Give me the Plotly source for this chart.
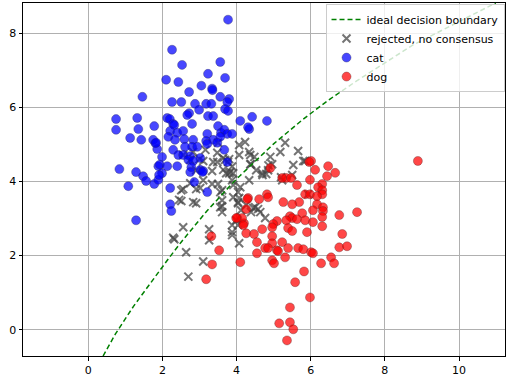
import plotly.graph_objects as go

# ---- data ----
cat_x = [0.75,0.75,1.32,1.35,1.46,1.78,1.13,1.43,1.81,1.86,1.99,1.89,1.93,1.99,0.84,1.29,1.48,1.56,1.78,1.89,
         1.08,1.29,2.10,2.13,2.20,3.77,2.26,2.53,3.56,3.23,3.69,2.43,2.72,3.05,3.34,3.35,3.56,3.80,3.75,2.26,
         2.51,2.88,3.18,3.32,2.99,3.69,3.77,2.72,2.67,3.23,3.37,4.10,4.42,4.82,4.34,2.80,2.29,3.50,4.31,2.32,
         2.21,2.40,2.56,2.16,2.34,2.59,2.83,2.80,2.61,2.94,3.21,3.18,3.37,3.58,3.67,3.75,3.88,3.56,3.48,3.21,
         3.67,1.75,1.83,2.29,2.43,2.56,2.75,3.02,2.70,2.83,2.13,2.40,2.78,3.02,3.10,3.75,1.91,2.21,2.21,2.24,
         3.21,2.86,2.75,3.08]
cat_y = [5.68,5.39,5.71,5.41,6.28,5.49,5.17,5.12,5.03,4.87,4.66,4.41,4.45,4.22,4.33,4.25,4.14,4.01,3.93,4.04,
         3.87,2.95,6.74,5.71,5.68,8.36,7.55,7.14,7.22,6.90,6.79,6.68,6.41,6.58,6.50,6.46,6.28,6.22,6.14,6.14,
         6.14,6.09,6.09,6.09,5.93,5.95,5.90,5.84,5.79,5.76,5.76,5.63,5.74,5.63,5.41,5.55,5.55,5.49,5.46,5.52,
         5.36,5.31,5.36,5.20,5.12,5.14,5.12,4.93,4.93,4.93,5.28,5.09,5.12,5.31,5.39,5.28,5.28,5.20,5.04,5.01,
         4.85,5.12,5.04,4.85,4.71,4.71,4.68,4.63,4.58,4.55,4.41,4.41,4.38,4.31,4.28,4.52,4.17,3.82,3.38,3.20,
         3.71,3.98,4.25,4.25]

dog_x = [6.01,6.47,6.12,6.66,6.44,4.91,5.34,5.47,5.98,6.31,6.20,6.31,6.31,5.85,5.98,6.17,4.82,4.31,4.61,5.26,
         5.69,5.50,6.17,6.33,6.06,6.33,7.25,6.77,6.31,5.44,5.77,5.50,5.63,5.85,5.34,6.06,5.09,4.99,4.96,4.69,
         5.39,5.50,5.90,6.31,4.02,4.20,4.26,4.47,4.55,4.96,4.96,5.23,6.85,4.77,4.85,5.09,5.39,5.66,5.80,6.01,
         6.06,6.77,6.98,4.55,5.12,5.31,4.96,5.01,6.28,6.55,6.63,4.10,5.82,5.58,3.32,3.53,3.34,3.18,5.98,5.44,
         5.15,5.44,5.53,5.36,8.89,4.29,4.26,4.15,3.99,5.23,5.96,5.63,4.85,4.18]
dog_y = [4.55,4.41,4.31,4.23,4.14,4.36,4.09,4.09,4.04,3.93,3.84,3.76,3.65,3.65,3.65,3.60,3.65,3.55,3.52,3.44,
         3.44,3.38,3.38,3.30,3.22,3.20,3.17,3.09,3.04,3.06,3.14,3.01,2.98,2.95,2.95,2.90,2.93,2.85,2.76,2.71,
         2.74,2.66,2.63,2.79,3.01,2.87,2.60,2.58,2.36,2.52,2.33,2.36,2.58,2.20,2.20,2.14,2.20,2.20,2.17,2.09,
         2.06,2.22,2.25,2.06,2.12,1.95,1.87,1.79,1.79,1.95,1.79,1.82,1.57,1.28,2.52,2.14,1.76,1.36,0.87,0.60,
         0.17,0.20,0.01,-0.29,4.55,3.52,3.25,3.01,3.01,4.09,4.52,3.90,3.57,2.82]

rej_x = [4.07,4.07,4.37,5.31,5.18,5.50,4.80,4.70,4.34,4.10,3.48,3.77,3.91,3.80,3.72,3.34,3.34,3.50,3.02,2.83,
         2.56,2.51,2.91,3.56,3.61,3.61,3.56,4.04,4.12,4.39,4.64,4.77,4.50,3.99,3.88,3.88,4.07,3.26,3.26,2.56,
         2.32,2.64,3.10,2.70,3.10,4.96,5.53,5.85,5.80,5.20,5.23,4.85,4.69,4.37,3.88,4.23,4.91,5.66,4.39,5.93,
         3.91,4.04,4.07,4.26,4.45,4.58,2.51,2.45,2.91,2.29,2.75,2.91,3.10,2.75,2.56,2.83,3.16,3.48,3.50,3.37,
         3.69,3.64,3.83,3.88,3.61,3.91,4.04,3.61,3.88,4.04,3.64,3.80,3.00,4.34,4.48,4.86,4.53]
rej_y = [4.98,4.71,4.46,5.04,4.79,4.17,4.20,4.17,4.03,3.84,4.52,4.52,4.22,4.22,4.22,4.28,3.93,3.93,3.82,3.44,
         3.79,3.47,3.79,3.71,3.49,3.17,3.30,3.41,3.22,3.17,3.17,3.01,3.30,2.95,2.82,2.55,2.33,2.71,2.41,2.76,
         2.44,2.09,1.84,1.43,4.03,4.46,4.44,4.55,4.55,4.11,4.03,4.30,4.22,4.71,4.40,5.06,4.66,4.82,4.46,3.65,
         3.57,3.71,3.55,3.36,3.28,3.25,3.76,3.50,3.41,2.48,3.95,4.30,4.55,4.58,4.71,4.79,4.85,4.77,5.04,4.52,
         4.58,4.31,4.25,4.03,3.76,3.90,3.44,3.33,2.63,2.82,4.63,4.60,4.60,4.79,4.66,4.43,4.30]

boundary_x = [0.40, 0.73, 1.22, 1.76, 2.16, 2.52, 3.20, 3.87, 4.10, 5.00, 5.80, 6.52, 7.24, 8.76, 10.99]
boundary_y = [-0.71, -0.12, 0.63, 1.38, 1.91, 2.38, 3.20, 3.93, 4.16, 5.01, 5.68, 6.22, 6.71, 7.68, 8.81]

x_ticks = [0, 2, 4, 6, 8, 10]
y_ticks = [0, 2, 4, 6, 8]

FONT = "DejaVu Sans"

fig = go.Figure()
fig.add_trace(go.Scatter(
    x=rej_x, y=rej_y, mode="markers", name="rejected, no consensus", legendrank=2,
    marker=dict(symbol="x-thin", size=8, line=dict(width=2, color="rgba(70,70,70,0.75)"))))
fig.add_trace(go.Scatter(
    x=cat_x, y=cat_y, mode="markers", name="cat", legendrank=3,
    marker=dict(symbol="circle", size=9, color="rgba(0,0,255,0.72)",
                line=dict(width=0.6, color="rgba(40,40,90,0.6)"))))
fig.add_trace(go.Scatter(
    x=dog_x, y=dog_y, mode="markers", name="dog", legendrank=4,
    marker=dict(symbol="circle", size=9, color="rgba(255,0,0,0.72)",
                line=dict(width=0.6, color="rgba(90,40,40,0.6)"))))
fig.add_trace(go.Scatter(
    x=boundary_x, y=boundary_y, mode="lines", name="ideal decision boundary", legendrank=1,
    line=dict(color="green", width=1.5, dash="5px,3px")))

axis_common = dict(
    showgrid=True, gridcolor="#b0b0b0", gridwidth=0.8,
    showline=True, linecolor="black", linewidth=1, mirror=True,
    ticks="outside", ticklen=3.5, tickcolor="black", tickwidth=0.8,
    tickfont=dict(family=FONT, size=11, color="black"), zeroline=False,
    automargin=False,
)
fig.update_xaxes(range=[-1.76, 11.24], tickvals=x_ticks, **axis_common)
fig.update_yaxes(range=[-0.71, 8.81], tickvals=y_ticks, **axis_common)

fig.update_layout(
    width=506, height=377,
    margin=dict(l=23, r=1, t=3, b=21, autoexpand=False),
    plot_bgcolor="white", paper_bgcolor="white",
    font=dict(family=FONT, size=11, color="black"),
    showlegend=True,
    legend=dict(x=0.999, y=0.997, xanchor="right", yanchor="top",
                bgcolor="rgba(255,255,255,0.8)", bordercolor="#cccccc", borderwidth=1,
                font=dict(family=FONT, size=11), tracegroupgap=0,
                itemwidth=30),
)

fig.write_html("out.html",
               config={"displayModeBar": False},
               post_script="document.body.style.margin='0px';document.body.style.padding='0px';")
